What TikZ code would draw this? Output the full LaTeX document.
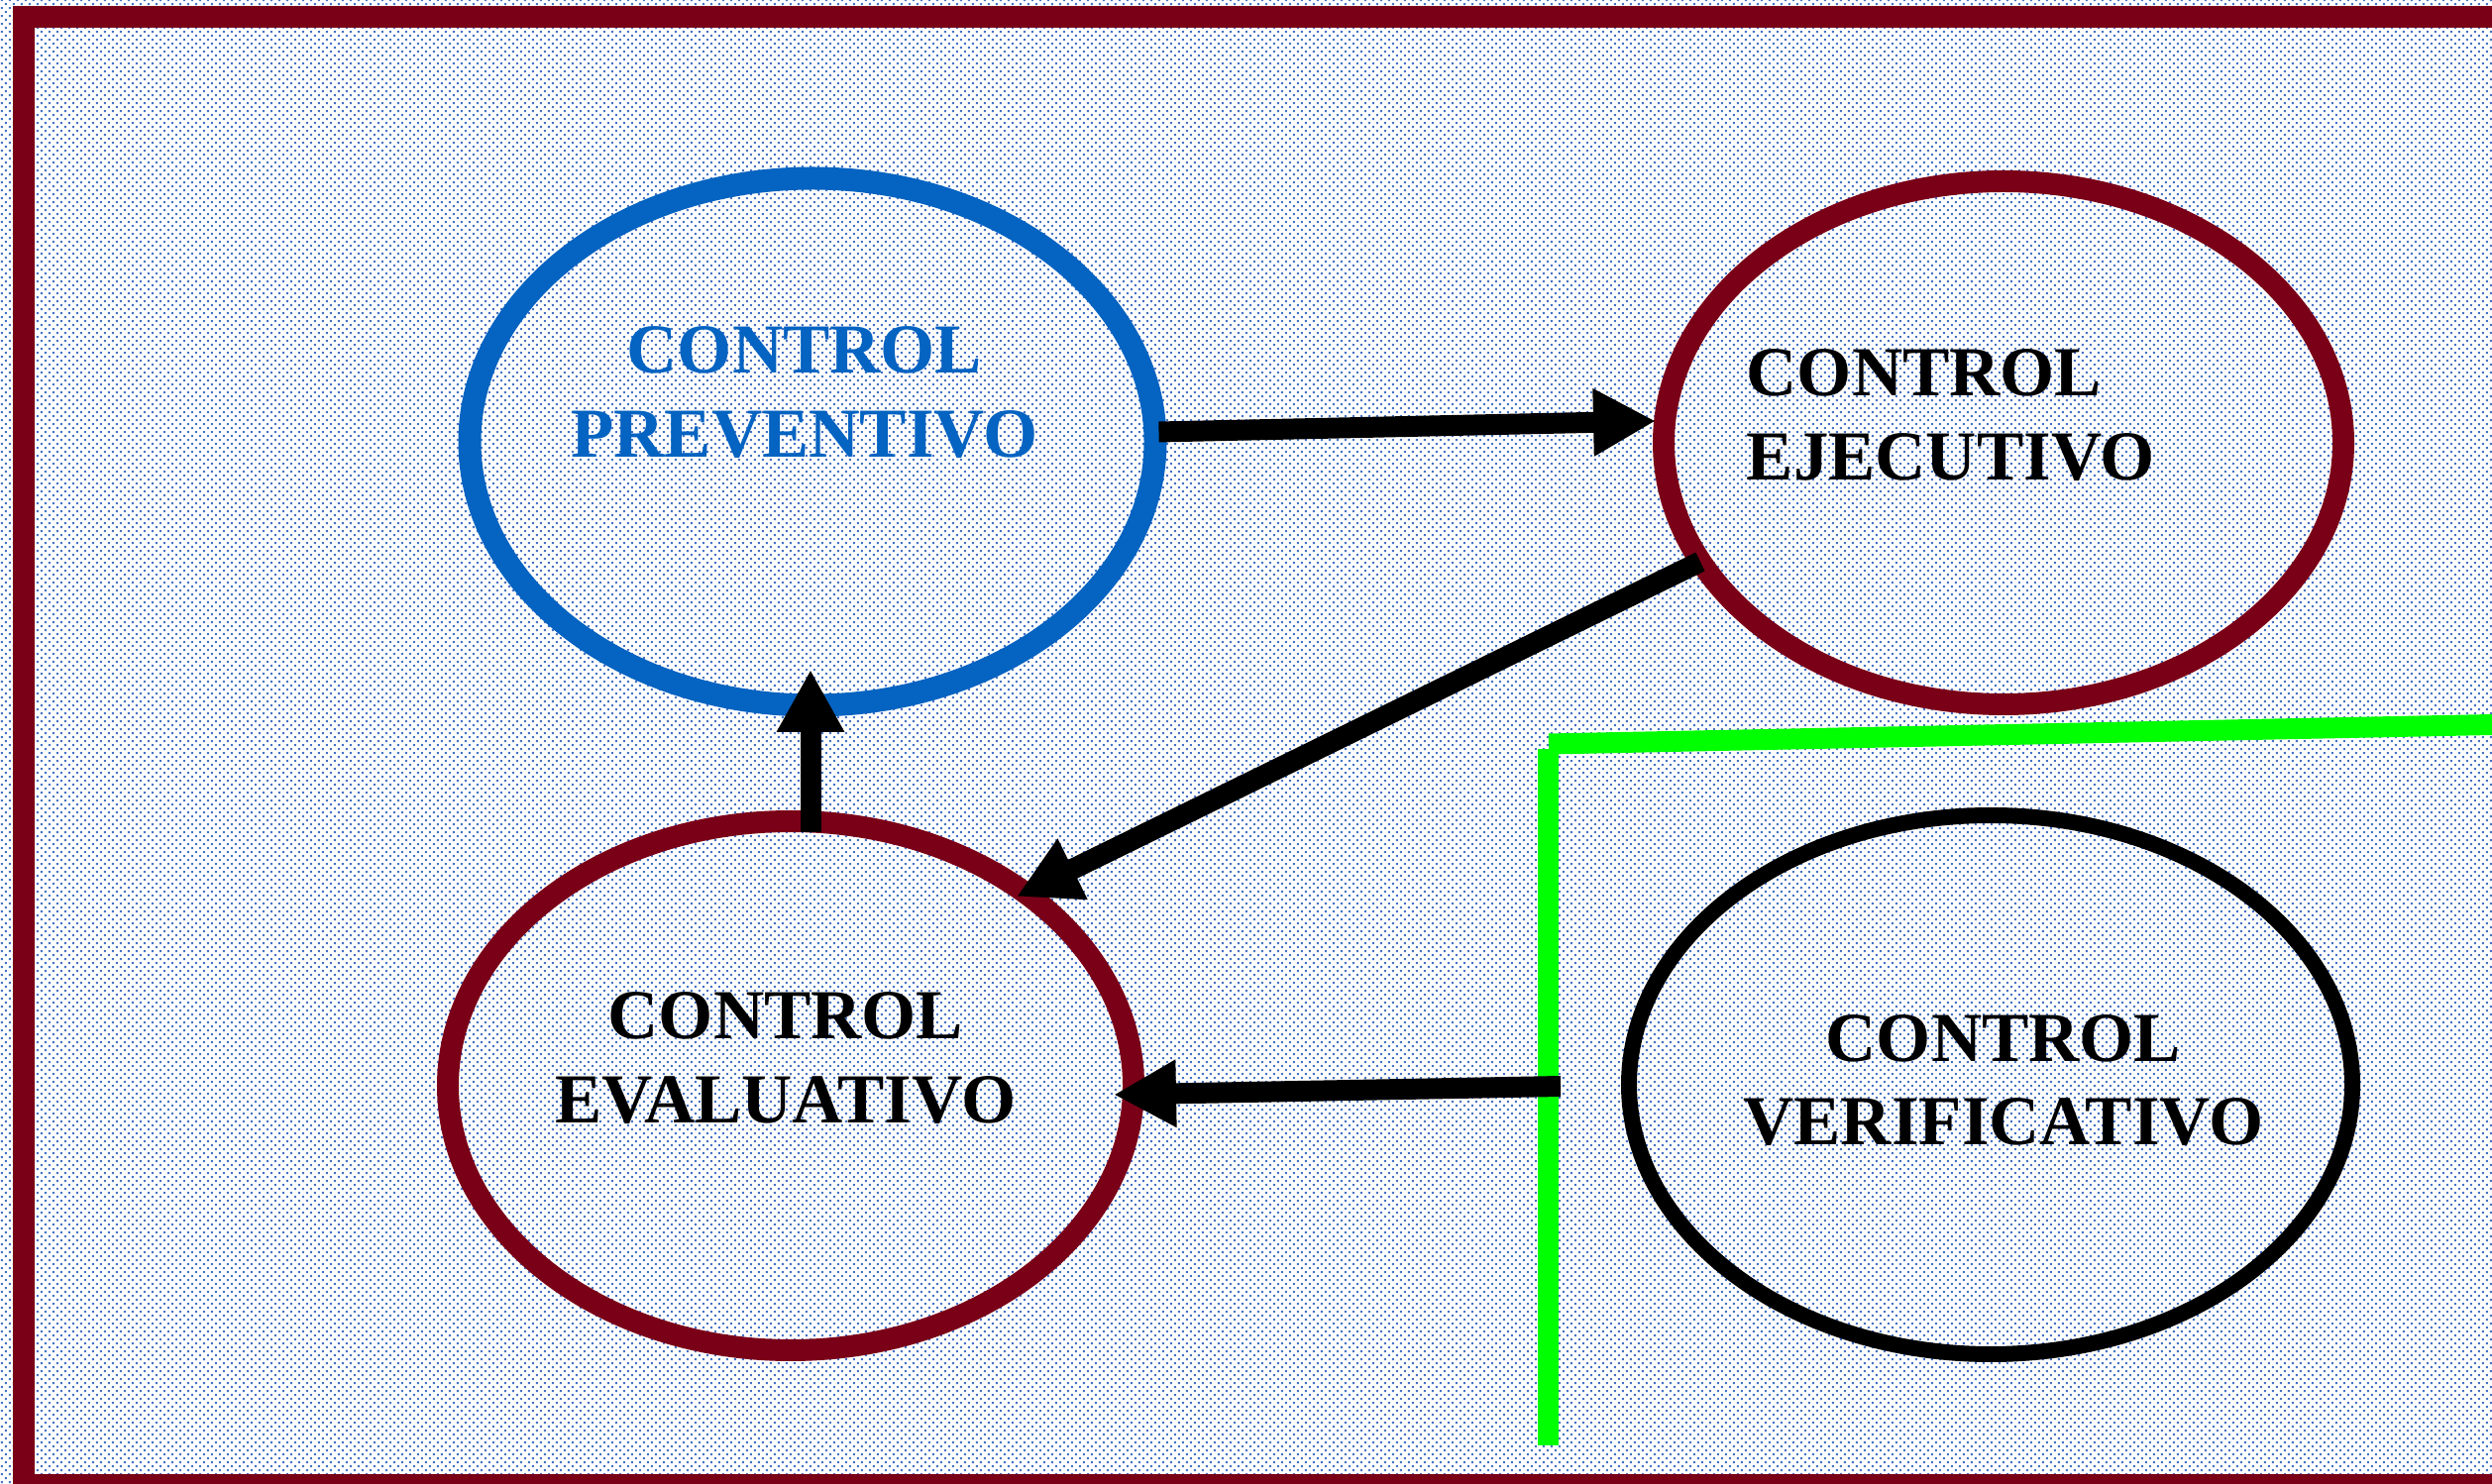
\documentclass[tikz,border=0pt]{standalone}
\usepackage{fontspec}
\setmainfont{Liberation Serif}
\usetikzlibrary{shapes.geometric,arrows.meta,calc,patterns.meta}

\definecolor{framered}{RGB}{122,0,24}
\definecolor{prevblue}{RGB}{5,99,193}
\definecolor{dotblue}{RGB}{68,114,196}
\definecolor{limegreen}{RGB}{0,255,0}

% fine stipple used as the page background
\tikzdeclarepattern{
  name=stipple,
  type=colored,
  bottom left={(0mm,0mm)},
  top right={(0.8mm,0.8mm)},
  tile size={(0.8mm,0.8mm)},
  code={
    \fill[dotblue] (0.1mm,0.1mm) rectangle (0.3mm,0.3mm);
    \fill[dotblue] (0.5mm,0.5mm) rectangle (0.7mm,0.7mm);
  }
}

\begin{document}
\begin{tikzpicture}[x=0.1mm,y=-0.1mm,
  oval/.style={ellipse, draw, inner sep=0pt},
  labeltext/.style={font=\fontsize{7.09mm}{8.5mm}\selectfont\bfseries, inner sep=0pt},
  conn/.style={draw=black, line width=2.1mm, -{Triangle[length=6.3mm,width=6.4mm]}},
  divider/.style={draw=limegreen, line width=2.1mm}
]
\useasboundingbox (0,0) rectangle (2515,1498);
\clip (0,0) rectangle (2515,1498);

% background and frame
\fill[white] (0,0) rectangle (2515,1498);
\fill[pattern=stipple] (0,0) rectangle (2515,1498);
\draw[framered, line width=2.2mm] (24,17.5) rectangle (2560,1499);

% the four kinds of control
\node[oval, draw=prevblue, line width=2.3mm, minimum width=69.2mm, minimum height=53.2mm] (prev) at (820,446) {};
\node[oval, draw=framered, line width=2.2mm, minimum width=68.6mm, minimum height=52.8mm] (ejec) at (2022,447) {};
\node[oval, draw=framered, line width=2.2mm, minimum width=69.2mm, minimum height=53.4mm] (eval) at (798,1096) {};
\node[oval, draw=black, line width=1.6mm, minimum width=73.0mm, minimum height=54.4mm] (verif) at (2009,1095) {};

% labels: the base anchor sits on the baseline of the second line
\node[labeltext, text=prevblue, align=center, anchor=base] (prevtxt) at (812,462) {CONTROL\\PREVENTIVO};
\node[labeltext, align=left, anchor=base west] (ejectxt) at (1762,485) {CONTROL\\EJECUTIVO};
\node[labeltext, align=center, anchor=base] (evaltxt) at (793,1134) {CONTROL\\EVALUATIVO};
\node[labeltext, align=center, anchor=base] (veriftxt) at (2022,1156) {CONTROL\\VERIFICATIVO};

% green divider
\draw[divider] (1562,756) -- (1562,1459);
\draw[divider] (1563,751) -- (2540,731);
\coordinate (gtail) at (1575,1096.5);

% connectors
\draw[conn] ($(prev.east)+(-8,-10)$) -- ($(ejec.west)+(3,-22)$);
\draw[conn] ($(ejec.center)+(-306,120)$) -- ($(eval.center)+(228,-191)$);
\draw[conn] ($(eval.north)+(20,22)$) -- ($(prev.south)+(-2,-47.5)$);
\draw[conn] (gtail) -- ($(eval.east)+(-31,9)$);
\end{tikzpicture}
\end{document}
